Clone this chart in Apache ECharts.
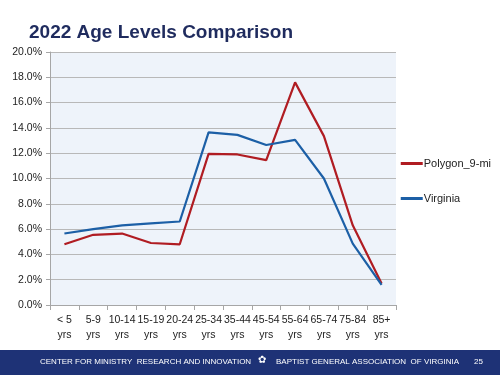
<!DOCTYPE html>
<html>
<head>
<meta charset="utf-8">
<script src="https://cdn.jsdelivr.net/npm/echarts@6/dist/echarts.min.js"></script>
<style>
  html, body { margin: 0; padding: 0; background: #fff; }
  #main { width: 500px; height: 375px; }
</style>
</head>
<body>
<div id="main"></div>
<script>
// age groups along the x axis
var categories = ['< 5\nyrs', '5-9\nyrs', '10-14\nyrs', '15-19\nyrs', '20-24\nyrs', '25-34\nyrs',
  '35-44\nyrs', '45-54\nyrs', '55-64\nyrs', '65-74\nyrs', '75-84\nyrs', '85+\nyrs'];
// percent of population per age group
var polygonValues = [4.8, 5.55, 5.65, 4.9, 4.8, 11.95, 11.9, 11.45, 17.6, 13.35, 6.3, 1.7];
var virginiaValues = [5.65, 6.0, 6.3, 6.45, 6.6, 13.65, 13.45, 12.65, 13.05, 10.0, 4.85, 1.6];
var seriesNames = ['Polygon_9-mi', 'Virginia'];

var myChart = echarts.init(document.getElementById('main'));

var option = {
  animation: false,
  textStyle: { fontFamily: 'Liberation Sans' },
  title: {
    text: '2022 Age Levels Comparison',
    left: 24,
    top: 18,
    textStyle: { color: '#1f2b5e', fontSize: 19, fontWeight: 'bold', fontFamily: 'Liberation Sans' }
  },
  grid: {
    left: 50,
    right: 104,
    top: 52,
    bottom: 70,
    show: true,
    backgroundColor: '#eef3fa',
    borderWidth: 0
  },
  legend: {
    orient: 'vertical',
    right: 4,
    top: 153,
    itemGap: 24,
    itemWidth: 22,
    itemHeight: 3,
    icon: 'rect',
    data: seriesNames,
    textStyle: { color: '#222', fontSize: 11, fontFamily: 'Liberation Sans', padding: [0, 0, 0, -4] }
  },
  xAxis: {
    type: 'category',
    data: categories,
    boundaryGap: true,
    axisLine: { lineStyle: { color: '#a6a6a6', width: 1 } },
    axisTick: { show: true, alignWithLabel: false, length: 5, lineStyle: { color: '#a6a6a6' } },
    axisLabel: { interval: 0, color: '#222', fontSize: 10.5, lineHeight: 15, margin: 8 }
  },
  yAxis: {
    type: 'value',
    min: 0,
    max: 20,
    interval: 2,
    axisLine: { show: true, lineStyle: { color: '#a6a6a6' } },
    axisTick: { show: true, length: 4, lineStyle: { color: '#a6a6a6' } },
    splitLine: { lineStyle: { color: '#b8b8b8', width: 1 } },
    axisLabel: {
      color: '#222',
      fontSize: 10.5,
      margin: 8,
      formatter: function (v) { return v.toFixed(1) + '%'; }
    }
  },
  series: [
    {
      name: seriesNames[0],
      type: 'line',
      data: polygonValues,
      symbol: 'none',
      lineStyle: { color: '#b01c22', width: 2.2 },
      itemStyle: { color: '#b01c22' }
    },
    {
      name: seriesNames[1],
      type: 'line',
      data: virginiaValues,
      symbol: 'none',
      lineStyle: { color: '#1c5fa6', width: 2.2 },
      itemStyle: { color: '#1c5fa6' }
    }
  ],
  graphic: [
    { type: 'rect', left: 0, top: 350, shape: { width: 500, height: 25 }, style: { fill: '#1e3276' }, silent: true },
    { type: 'text', left: 40, top: 358, style: { text: 'CENTER FOR MINISTRY  RESEARCH AND INNOVATION', fill: '#fff', fontSize: 8, fontFamily: 'Liberation Sans' } },
    { type: 'text', left: 258, top: 355, style: { text: '✿', fill: '#fff', fontSize: 10, fontFamily: 'DejaVu Sans' } },
    { type: 'text', left: 276, top: 358, style: { text: 'BAPTIST GENERAL ASSOCIATION  OF VIRGINIA', fill: '#fff', fontSize: 8, fontFamily: 'Liberation Sans' } },
    { type: 'text', left: 474, top: 358, style: { text: '25', fill: '#fff', fontSize: 8, fontFamily: 'Liberation Sans' } }
  ]
};

myChart.setOption(option);
</script>
</body>
</html>
